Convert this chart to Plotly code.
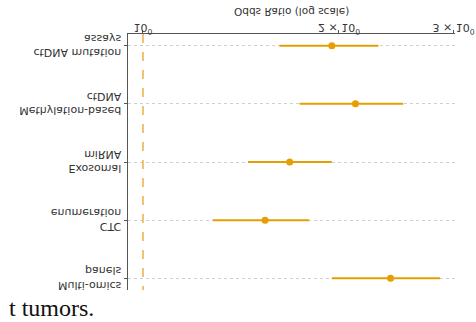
import plotly.graph_objects as go

categories = ["ctDNA mutation<br>assays", "Methylation-based<br>ctDNA", "Exosomal<br>miRNA",
              "CTC<br>enumeration", "Multi-omics<br>panels"]
odds_ratio = [1.95, 2.12, 1.68, 1.54, 2.40]
ci_low = [1.62, 1.74, 1.45, 1.28, 1.95]
ci_high = [2.30, 2.51, 1.95, 1.80, 2.86]
tick_vals = [1, 2, 3]
tick_text = ["10<sup>0</sup>", "2 × 10<sup>0</sup>", "3 × 10<sup>0</sup>"]
x_title = "Odds Ratio (log scale)"
caption = "t tumors."

ORANGE = "#E69F00"

lx, ly = [], []
for c, lo, hi in zip(categories, ci_low, ci_high):
    lx += [lo, hi, None]
    ly += [c, c, None]

fig = go.Figure()
fig.add_trace(go.Scatter(x=lx, y=ly, mode="lines", line=dict(color=ORANGE, width=2),
                         hoverinfo="skip", showlegend=False))
fig.add_trace(go.Scatter(x=odds_ratio, y=categories, mode="markers",
                         marker=dict(color=ORANGE, size=7), showlegend=False))

fig.add_shape(type="line", xref="x", yref="paper", x0=1, x1=1, y0=0, y1=1,
              line=dict(color="#EDB13C", width=1.5, dash="dash"))

# caption (index 0, re-flipped so it reads normally)
fig.add_annotation(text=caption, xref="paper", yref="paper", x=-0.370, y=1.070,
                   xanchor="left", yanchor="middle", showarrow=False,
                   font=dict(family="Liberation Serif", size=24, color="#111"))
# axis title
fig.add_annotation(text=x_title, xref="paper", yref="paper", x=0.5, y=-0.086,
                   xanchor="center", yanchor="middle", showarrow=False,
                   font=dict(family="DejaVu Sans", size=10.5, color="#333"))

fig.update_layout(
    width=476, height=322,
    margin=dict(l=128, r=21, t=32, b=34),
    paper_bgcolor="white", plot_bgcolor="white",
    font=dict(family="DejaVu Sans", size=11, color="#333"),
    xaxis=dict(type="log", range=[-0.023, 0.4792], tickvals=tick_vals, ticktext=tick_text,
               showgrid=False, zeroline=False, showline=True, linecolor="#555", linewidth=1,
               ticks="outside", ticklen=3.5, tickcolor="#555", automargin=False,
               ticklabelstandoff=-8),
    yaxis=dict(type="category", categoryorder="array", categoryarray=categories,
               range=[-0.2, 4.2], showgrid=True, gridcolor="#d0d0d0", griddash="dot",
               gridwidth=1, showline=True, linecolor="#555", linewidth=1,
               ticks="outside", ticklen=3.5, tickcolor="#555", zeroline=False,
               automargin=False),
)

js = """
document.body.style.margin = '0';
var gd = document.getElementById('{plot_id}');
function flipAll(){
  var c = gd.querySelector('.svg-container');
  if (c) { c.style.transformOrigin = '50% 50%'; c.style.transform = 'scaleY(-1)'; }
  var a = gd.querySelector('.annotation[data-index="0"] .annotation-text');
  if (a) {
    a.style.transformBox = 'fill-box';
    a.style.transformOrigin = 'center';
    a.style.transform = 'scaleY(-1)';
  }
}
flipAll();
if (gd.on) { gd.on('plotly_afterplot', flipAll); }
"""

fig.write_html("out.html", post_script=js, config={"displayModeBar": False})
